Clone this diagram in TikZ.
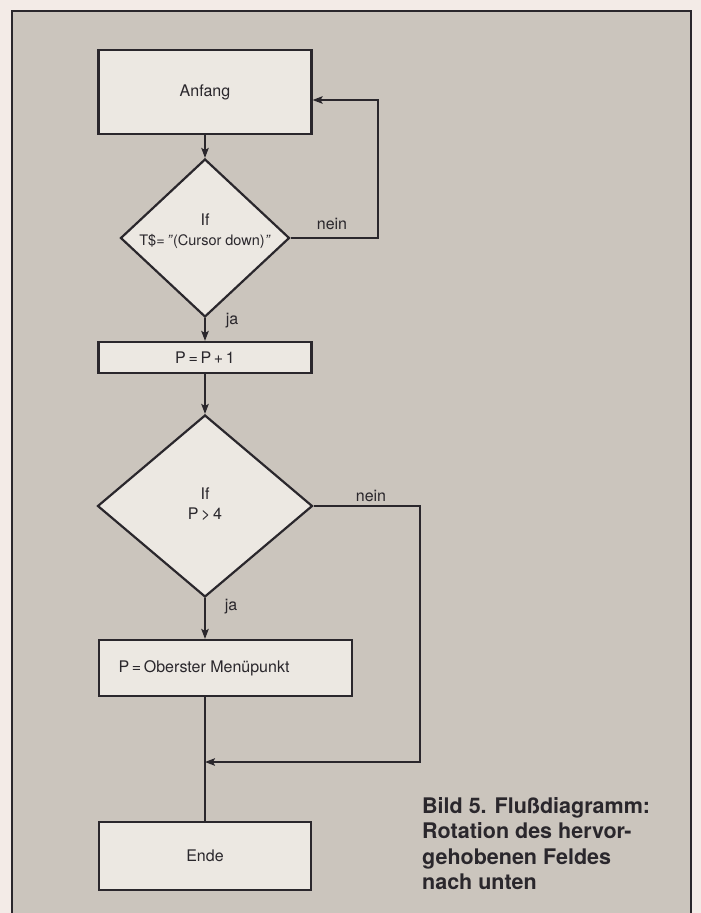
\documentclass[tikz,border=0pt]{standalone}
\usepackage{fontspec}
\setmainfont{TeX Gyre Heros}
\usetikzlibrary{shapes.geometric,arrows.meta}
\definecolor{pagebg}{HTML}{F3EBE7}
\definecolor{framebg}{HTML}{CBC5BD}
\definecolor{boxfill}{HTML}{ECE8E2}
\definecolor{ink}{HTML}{2A272C}
\begin{document}
\begin{tikzpicture}[x=1pt,y=-1pt,
  box/.style={draw=ink, line width=2.2pt, fill=boxfill, inner sep=0pt, text=ink, font=\fontsize{16}{20}\selectfont},
  dia/.style={diamond, draw=ink, line width=2.2pt, fill=boxfill, inner sep=0pt},
  lbl/.style={font=\fontsize{16}{20}\selectfont, text=ink, inner sep=0pt, align=center},
  conn/.style={draw=ink, line width=1.5pt},
  arr/.style={conn, -{Stealth[length=10pt,width=7.5pt,inset=2pt]}}
]
\useasboundingbox (0,0) rectangle (701,913);
\clip (0,0) rectangle (701,913);
\fill[pagebg] (0,0) rectangle (701,913);
\draw[draw=ink, line width=2pt, fill=framebg] (12,11) rectangle (691,935);

% nodes
\node[box, minimum width=213pt, minimum height=84pt] (A) at (205,92) {Anfang};
\node[dia, minimum width=169pt, minimum height=158pt] (D1) at (205,238) {};
\node[lbl] (t1) at (205,231) {If\\{\fontsize{14.5}{20}\selectfont T\$=\,\textit{"}(Cursor down)\textit{"}}};
\node[box, minimum width=213pt, minimum height=31pt] (P1) at (205,357.5) {P\,=\,P\,+\,1};
\node[dia, minimum width=215pt, minimum height=182pt] (D2) at (205,506) {};
\node[lbl] (t2) at (205,504) {If\\P\,>\,4};
\node[box, minimum width=253pt, minimum height=56pt] (P2) at (225.5,668) {};
\node[lbl] (t3) at (204,668) {P\,=\,Oberster Menüpunkt};
\node[box, minimum width=212pt, minimum height=68pt] (E) at (205,856) {Ende};

% labels
\node[lbl] (n1) at (332,224) {nein};
\node[lbl] (j1) at (232,321) {ja};
\node[lbl] (n2) at (371,496) {nein};
\node[lbl] (j2) at (231,607) {ja};

% caption
\node[anchor=north west, inner sep=0pt, align=left, text=ink,
      font=\bfseries\fontsize{21.5}{25.5}\selectfont] (cap) at (422,797)
  {Bild 5. Flußdiagramm:\\Rotation des hervor-\\gehobenen Feldes\\nach unten};

% connectors
\coordinate (c1) at (378,100);
\coordinate (c2) at (420,762);
\coordinate (J) at (205,762);
\draw[arr] (A.south) -- (D1.north);
\draw[arr] (D1.east) -| (c1) -- (c1 -| A.east);
\draw[arr] (D1.south) -- (P1.north);
\draw[arr] (P1.south) -- (D2.north);
\draw[arr] (D2.south) -- (D2.south |- P2.north);
\draw[conn] (D2.south |- P2.south) -- (E.north);
\draw[arr] (D2.east) -| (c2) -- (J);
\end{tikzpicture}
\end{document}
